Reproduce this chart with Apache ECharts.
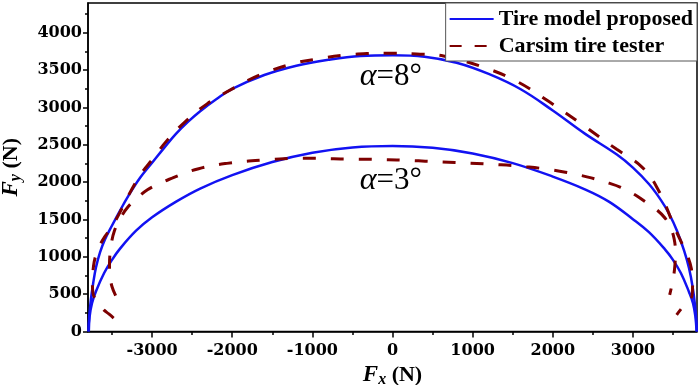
<!DOCTYPE html>
<html><head><meta charset="utf-8">
<script src="https://cdn.jsdelivr.net/npm/echarts@6/dist/echarts.min.js"></script>
<style>html,body{margin:0;padding:0;background:#fff}#c{width:700px;height:385px}</style>
</head><body><div id="c"></div>
<script>
// tick labels / ticks
const xTickLabels = [-3000, -2000, -1000, 0, 1000, 2000, 3000];
const xMinorTicks = [-3500, -2500, -1500, -500, 500, 1500, 2500, 3500];
const yTickLabels = [0, 500, 1000, 1500, 2000, 2500, 3000, 3500, 4000];
const yMinorTicks = [250, 750, 1250, 1750, 2250, 2750, 3250, 3750, 4250];

// Tire model proposed, alpha = 8 deg  [Fx, Fy]
const model8 = [[-3795,0],[-3785,200],[-3765,420],[-3735,650],[-3700,860],[-3650,1060],[-3590,1230],[-3500,1420],[-3400,1620],[-3300,1810],[-3150,2060],[-3000,2260],[-2850,2460],[-2700,2650],[-2550,2810],[-2400,2950],[-2200,3110],[-2000,3250],[-1600,3435],[-1200,3560],[-800,3640],[-400,3690],[0,3700],[400,3680],[800,3600],[1200,3450],[1600,3245],[2000,2960],[2400,2650],[2800,2370],[3000,2195],[3200,1975],[3350,1760],[3450,1580],[3550,1350],[3640,1080],[3700,850],[3745,600],[3775,350],[3792,150],[3797,0]];
// Tire model proposed, alpha = 3 deg
const model3 = [[-3790,0],[-3780,200],[-3750,380],[-3700,540],[-3600,780],[-3500,960],[-3400,1110],[-3200,1350],[-3000,1530],[-2700,1740],[-2400,1915],[-2000,2095],[-1500,2270],[-1000,2395],[-500,2465],[0,2485],[500,2460],[1000,2385],[1500,2255],[2000,2075],[2400,1905],[2700,1740],[3000,1505],[3200,1330],[3400,1100],[3500,960],[3600,780],[3700,530],[3750,380],[3780,200],[3795,0]];
// Carsim tire tester, alpha = 8 deg
const tester8 = [[-3480,180],[-3540,235],[-3603,290],[-3680,390],[-3738,514],[-3745,650],[-3732,870],[-3705,1010],[-3650,1160],[-3590,1270],[-3530,1360],[-3460,1480],[-3380,1640],[-3300,1810],[-3220,1970],[-3120,2140],[-3000,2300],[-2813,2560],[-2585,2812],[-2314,3049],[-1983,3260],[-1650,3440],[-1234,3590],[-943,3650],[-611,3700],[-319,3722],[0,3728],[300,3718],[636,3690],[1135,3540],[1551,3350],[1966,3070],[2382,2760],[2798,2440],[3000,2300],[3100,2215],[3200,2100],[3300,1930],[3400,1710],[3480,1500],[3550,1320],[3620,1160],[3690,990],[3730,840],[3745,650],[3738,480],[3700,415],[3628,335],[3546,224]];
// Carsim tire tester, alpha = 3 deg
const tester3 = [[-3455,480],[-3500,600],[-3522,720],[-3532,880],[-3528,1010],[-3505,1200],[-3470,1350],[-3400,1510],[-3300,1670],[-3187,1786],[-3058,1898],[-2898,1987],[-2751,2054],[-2564,2133],[-2419,2180],[-2232,2225],[-2066,2252],[-1879,2275],[-1712,2290],[-1504,2305],[-1359,2314],[-1151,2320],[-985,2320],[-818,2316],[-651,2312],[-444,2309],[-278,2306],[-112,2302],[54,2298],[242,2290],[408,2282],[616,2272],[782,2264],[969,2255],[1135,2246],[1322,2234],[1488,2222],[1675,2205],[1841,2187],[2009,2162],[2158,2134],[2340,2093],[2480,2057],[2700,1988],[2840,1935],[3026,1831],[3150,1741],[3297,1630],[3400,1520],[3470,1390],[3515,1240],[3530,1071],[3525,900],[3505,720],[3459,491]];

const seriesNames = ['Tire model proposed', 'Carsim tire tester'];
const annotations = [{text: '8°', at: [-20, 3410]}, {text: '3°', at: [-20, 2020]}];

const BLUE = '#1212f2', RED = '#7d0000';
const tickFont = {fontFamily: 'DejaVu Serif', fontWeight: 'bold', fontSize: 16, color: '#000'};
const axisLine = {show: true, onZero: false, lineStyle: {color: '#000', width: 1.5}};
const plain = v => String(v);

const nameRich = {
  F: {fontFamily: 'Liberation Serif', fontWeight: 'bold', fontStyle: 'italic', fontSize: 23, lineHeight: 26, color: '#000'},
  s: {fontFamily: 'Liberation Serif', fontWeight: 'bold', fontStyle: 'italic', fontSize: 16, lineHeight: 16, verticalAlign: 'bottom', color: '#000'},
  n: {fontFamily: 'Liberation Serif', fontWeight: 'bold', fontSize: 22, lineHeight: 26, color: '#000'}
};
const alphaRich = {
  a: {fontFamily: 'Liberation Serif', fontStyle: 'italic', fontSize: 32, color: '#000'},
  b: {fontFamily: 'Liberation Serif', fontSize: 31, color: '#000'}
};
function mark(i) {
  return {symbol: 'circle', symbolSize: 0, silent: true,
    label: {show: true, position: 'inside', formatter: '{a|α}{b|=' + annotations[i].text + '}', rich: alphaRich},
    data: [{coord: annotations[i].at}]};
}

const chart = echarts.init(document.getElementById('c'), null, {renderer: 'canvas'});
chart.setOption({
  animation: false,
  backgroundColor: '#fff',
  grid: {left: 88, right: 3, top: 3, bottom: 53.5, show: true, borderColor: '#000', borderWidth: 1.5,
         containLabel: false, outerBoundsMode: 'none'},
  legend: {
    orient: 'vertical', right: 3, top: 3, itemWidth: 44, itemHeight: 14, itemGap: 5,
    padding: [5, 4, 4, 3], borderColor: '#555', borderWidth: 1, backgroundColor: '#fff',
    itemStyle: {opacity: 0, borderWidth: 0},
    textStyle: {fontFamily: 'Liberation Serif', fontWeight: 'bold', fontSize: 22, color: '#000'},
    data: [
      {name: seriesNames[0]},
      {name: seriesNames[1], lineStyle: {type: [12, 13]}}
    ]
  },
  xAxis: [{
    type: 'value', min: -3800, max: 3800, position: 'bottom',
    axisLine: axisLine,
    axisTick: {show: true, length: 6, lineStyle: {color: '#000', width: 1.5}, customValues: xTickLabels},
    axisLabel: Object.assign({margin: 11, customValues: xTickLabels, formatter: plain}, tickFont),
    splitLine: {show: false},
    name: '{F|F}{s|x}{n| (N)}', nameLocation: 'middle', nameGap: 27,
    nameTextStyle: {rich: nameRich}
  }, {
    type: 'value', min: -3800, max: 3800, position: 'bottom',
    axisLine: {show: false, onZero: false},
    axisTick: {show: true, length: 3.5, lineStyle: {color: '#000', width: 1.5}, customValues: xMinorTicks},
    axisLabel: {show: false}, splitLine: {show: false}
  }],
  yAxis: [{
    type: 'value', min: 0, max: 4400, position: 'left',
    axisLine: axisLine,
    axisTick: {show: true, length: 5, lineStyle: {color: '#000', width: 1.5}, customValues: yTickLabels},
    axisLabel: Object.assign({margin: 6, customValues: yTickLabels, formatter: plain}, tickFont),
    splitLine: {show: false},
    name: '{F|F}{s|y}{n| (N)}', nameLocation: 'middle', nameGap: 64, nameRotate: 90,
    nameTextStyle: {rich: nameRich}
  }, {
    type: 'value', min: 0, max: 4400, position: 'left',
    axisLine: {show: false, onZero: false},
    axisTick: {show: true, length: 3, lineStyle: {color: '#000', width: 1.5}, customValues: yMinorTicks},
    axisLabel: {show: false}, splitLine: {show: false}
  }],
  series: [
    {type: 'line', name: seriesNames[0], data: model8, smooth: 0.4, symbol: 'none', clip: false,
     lineStyle: {color: BLUE, width: 2.5}, itemStyle: {color: BLUE}, markPoint: mark(0)},
    {type: 'line', name: seriesNames[0], data: model3, smooth: 0.4, symbol: 'none', clip: false,
     lineStyle: {color: BLUE, width: 2.5}, itemStyle: {color: BLUE}, markPoint: mark(1)},
    {type: 'line', name: seriesNames[1], data: tester8, smooth: 0.4, symbol: 'none',
     lineStyle: {color: RED, width: 3, type: [13, 15]}, itemStyle: {color: RED}},
    {type: 'line', name: seriesNames[1], data: tester3, smooth: 0.4, symbol: 'none',
     lineStyle: {color: RED, width: 3, type: [13, 15]}, itemStyle: {color: RED}}
  ]
});
</script></body></html>
